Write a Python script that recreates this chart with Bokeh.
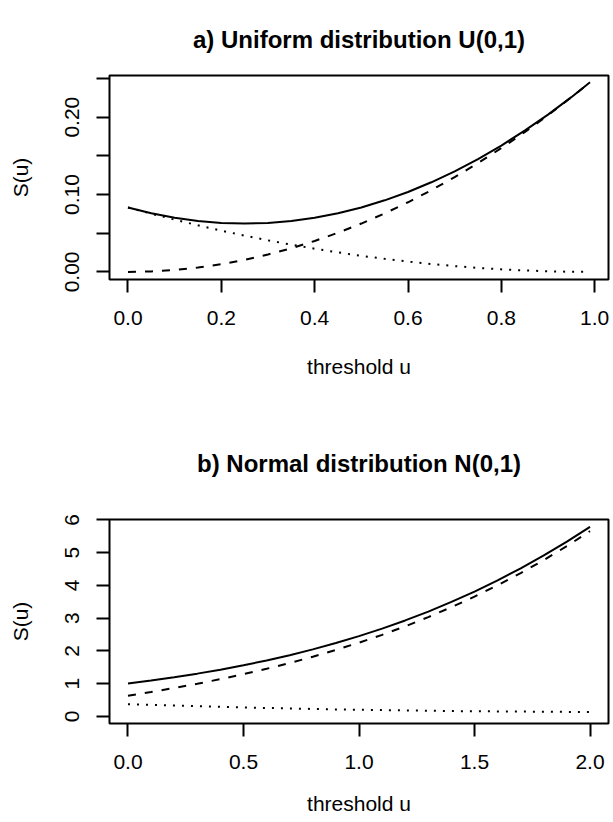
from bokeh.plotting import figure
from bokeh.models import Range1d, FixedTicker, PrintfTickFormatter
from bokeh.layouts import column
from bokeh.embed import file_html
from bokeh.resources import INLINE

# ---- Panel a: Uniform distribution U(0,1) ----
u_a = [0.00, 0.05, 0.10, 0.15, 0.20, 0.25, 0.30, 0.35, 0.40, 0.45, 0.50,
       0.55, 0.60, 0.65, 0.70, 0.75, 0.80, 0.85, 0.90, 0.95, 0.99]
total_a = [0.0833, 0.0758, 0.0700, 0.0658, 0.0633, 0.0625, 0.0633, 0.0658,
           0.0700, 0.0758, 0.0833, 0.0925, 0.1033, 0.1158, 0.1300, 0.1458,
           0.1633, 0.1825, 0.2033, 0.2258, 0.2450]
dashed_a = [0.0000, 0.0006, 0.0025, 0.0056, 0.0100, 0.0156, 0.0225, 0.0306,
            0.0400, 0.0506, 0.0625, 0.0756, 0.0900, 0.1056, 0.1225, 0.1406,
            0.1600, 0.1806, 0.2025, 0.2256, 0.2450]
dotted_a = [0.0833, 0.0752, 0.0675, 0.0602, 0.0533, 0.0469, 0.0408, 0.0352,
            0.0300, 0.0252, 0.0208, 0.0169, 0.0133, 0.0102, 0.0075, 0.0052,
            0.0033, 0.0019, 0.0008, 0.0002, 0.0000]
xticks_a = [0.0, 0.2, 0.4, 0.6, 0.8, 1.0]
yticks_a = [0.00, 0.10, 0.20]
yminor_a = [0.05, 0.15, 0.25]

# ---- Panel b: Normal distribution N(0,1) ----
u_b = [0.0, 0.1, 0.2, 0.3, 0.4, 0.5, 0.6, 0.7, 0.8, 0.9, 1.0,
       1.1, 1.2, 1.3, 1.4, 1.5, 1.6, 1.7, 1.8, 1.9, 2.0]
total_b = [1.000, 1.092, 1.194, 1.304, 1.426, 1.560, 1.707, 1.868, 2.045,
           2.239, 2.450, 2.680, 2.930, 3.201, 3.495, 3.813, 4.154, 4.522,
           4.916, 5.338, 5.790]
dashed_b = [0.630, 0.742, 0.864, 0.994, 1.136, 1.290, 1.452, 1.628, 1.820,
            2.029, 2.250, 2.490, 2.750, 3.031, 3.335, 3.658, 4.004, 4.377,
            4.776, 5.203, 5.660]
dotted_b = [0.370, 0.350, 0.330, 0.310, 0.290, 0.270, 0.255, 0.240, 0.225,
            0.210, 0.200, 0.190, 0.180, 0.170, 0.160, 0.155, 0.150, 0.145,
            0.140, 0.135, 0.130]
xticks_b = [0.0, 0.5, 1.0, 1.5, 2.0]
yticks_b = [0, 1, 2, 3, 4, 5, 6]

FONT = "Liberation Sans"
LW = 2


def make_panel(title, xr, yr, xt, yt, ymin, xfmt, yfmt, top, bottom,
               title_standoff, xlab_standoff):
    p = figure(frame_width=499, frame_height=204,
               min_border_left=109, min_border_right=5,
               min_border_top=top, min_border_bottom=bottom,
               x_range=Range1d(*xr), y_range=Range1d(*yr),
               output_backend="svg", toolbar_location=None,
               title=title)
    p.title.text_font = FONT
    p.title.text_font_size = "24px"
    p.title.text_font_style = "bold"
    p.title.text_color = "black"
    p.title.align = "center"
    p.title.standoff = title_standoff
    p.grid.visible = False
    p.outline_line_color = "black"
    p.outline_line_width = LW
    p.background_fill_color = "white"
    p.border_fill_color = "white"

    p.xaxis.ticker = FixedTicker(ticks=xt)
    p.yaxis.ticker = FixedTicker(ticks=yt, minor_ticks=ymin)
    p.xaxis.formatter = PrintfTickFormatter(format=xfmt)
    p.yaxis.formatter = PrintfTickFormatter(format=yfmt)
    for ax in (p.xaxis, p.yaxis):
        ax.axis_line_color = None
        ax.major_tick_line_color = "black"
        ax.major_tick_line_width = LW
        ax.minor_tick_line_color = "black"
        ax.minor_tick_line_width = LW
        ax.major_tick_in = 0
        ax.major_tick_out = 13
        ax.minor_tick_in = 0
        ax.minor_tick_out = 13
        ax.major_label_text_font = FONT
        ax.major_label_text_font_size = "21px"
        ax.major_label_text_color = "black"
        ax.axis_label_text_font = FONT
        ax.axis_label_text_font_size = "21px"
        ax.axis_label_text_font_style = "normal"
        ax.axis_label_text_color = "black"
    p.xaxis.minor_tick_line_color = None
    p.xaxis.major_label_standoff = 18
    p.yaxis.major_label_standoff = 17
    p.yaxis.major_label_orientation = "vertical"
    p.xaxis.axis_label = "threshold u"
    p.yaxis.axis_label = "S(u)"
    p.xaxis.axis_label_standoff = xlab_standoff
    p.yaxis.axis_label_standoff = 31
    return p


pa = make_panel("a) Uniform distribution U(0,1)",
                (-0.0396, 1.0296), (-0.0098, 0.2538),
                xticks_a, yticks_a, yminor_a, "%.1f", "%.2f",
                75, 120, 45, 27)
pa.line(u_a, total_a, line_color="black", line_width=LW)
pa.line(u_a, dashed_a, line_color="black", line_width=LW, line_dash="8 9")
pa.line(u_a, dotted_a, line_color="black", line_width=LW, line_dash="2 7")

pb = make_panel("b) Normal distribution N(0,1)",
                (-0.08, 2.08), (-0.22, 6.015),
                xticks_b, yticks_b, [], "%.1f", "%d",
                120, 99, 85, 20)
pb.line(u_b, total_b, line_color="black", line_width=LW)
pb.line(u_b, dashed_b, line_color="black", line_width=LW, line_dash="8 9")
pb.line(u_b, dotted_b, line_color="black", line_width=LW, line_dash="2 7")

layout = column(pa, pb)
open("out.html", "w").write(file_html(layout, INLINE))
